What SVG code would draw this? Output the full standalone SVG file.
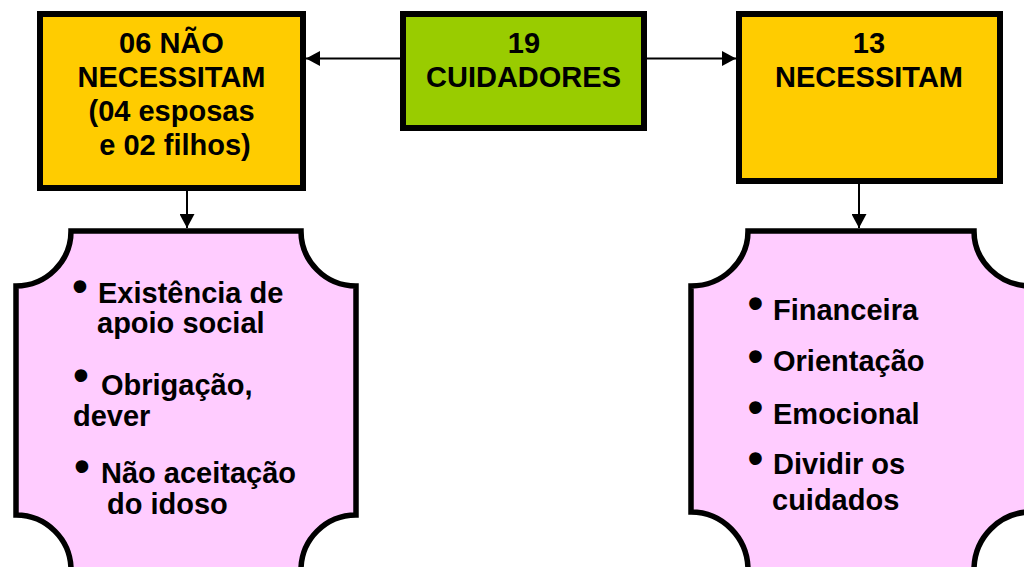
<svg xmlns="http://www.w3.org/2000/svg" width="1024" height="567" viewBox="0 0 1024 567">
<style>
.box{stroke:#000;stroke-width:6}
.yel{fill:#FFCC00}
.grn{fill:#99CC00}
.pink{fill:#FFCCFF;stroke:#000;stroke-width:5.5}
.t{font-family:"Liberation Sans",Arial,sans-serif;font-weight:bold;font-size:29px;fill:#000}
.c{text-anchor:middle}
.b{font-size:44px}
.ln{stroke:#000;stroke-width:2;fill:none}
</style>
<defs>
<marker id="ah" viewBox="0 0 14 15" refX="14" refY="7.5" markerWidth="14" markerHeight="15" markerUnits="userSpaceOnUse" orient="auto">
<path d="M0,0 L14,7.5 L0,15 Z" fill="#000"/>
</marker>
</defs>
<rect width="1024" height="567" fill="#fff"/>
<g id="connectors">
<line class="ln" x1="403" y1="58.5" x2="306" y2="58.5" marker-end="url(#ah)"/>
<line class="ln" x1="639" y1="58.5" x2="736" y2="58.5" marker-end="url(#ah)"/>
<line class="ln" x1="187" y1="181" x2="187" y2="228" marker-end="url(#ah)"/>
<line class="ln" x1="859" y1="184" x2="859" y2="228" marker-end="url(#ah)"/>
</g>
<g id="node-nao">
<rect class="box yel" x="40" y="14" width="263" height="174"/>
<text class="t c" x="171.5" y="53">06 NÃO</text>
<text class="t c" x="171.5" y="87">NECESSITAM</text>
<text class="t c" x="171.5" y="121">(04 esposas</text>
<text class="t c" x="175" y="155">e 02 filhos)</text>
</g>
<g id="node-cuidadores">
<rect class="box grn" x="403" y="14" width="241" height="114"/>
<text class="t c" x="524" y="53">19</text>
<text class="t c" x="523.5" y="87">CUIDADORES</text>
</g>
<g id="node-necessitam">
<rect class="box yel" x="739" y="14" width="261" height="167"/>
<text class="t c" x="869" y="53">13</text>
<text class="t c" x="869" y="87">NECESSITAM</text>
</g>
<g id="node-motivos">
<path class="pink" d="M71,231 H301 A55,55 0 0 0 356,286 V515 A55,55 0 0 0 301,570 H71 A55,55 0 0 0 16,515 V286 A55,55 0 0 0 71,231 Z"/>
<text class="t"><tspan class="b" x="72.3" y="301">•</tspan><tspan x="98" y="303">Existência de</tspan></text>
<text class="t" x="97" y="333">apoio social</text>
<text class="t"><tspan class="b" x="73.3" y="389.5">•</tspan><tspan x="101" y="395">Obrigação,</tspan></text>
<text class="t" x="73" y="426">dever</text>
<text class="t"><tspan class="b" x="74.3" y="481">•</tspan><tspan x="101" y="483">Não aceitação</tspan></text>
<text class="t" x="107" y="514">do idoso</text>
</g>
<g id="node-apoios">
<path class="pink" d="M748,231 H974 A57,55 0 0 0 1031,286 V512 A57,58 0 0 0 974,570 H748 A57,58 0 0 0 691,512 V286 A57,55 0 0 0 748,231 Z"/>
<text class="t"><tspan class="b" x="747.8" y="317.5">•</tspan><tspan x="773" y="320">Financeira</tspan></text>
<text class="t"><tspan class="b" x="747.8" y="371">•</tspan><tspan x="773" y="371">Orientação</tspan></text>
<text class="t"><tspan class="b" x="747.8" y="421.5">•</tspan><tspan x="773" y="424">Emocional</tspan></text>
<text class="t"><tspan class="b" x="747.8" y="472.5">•</tspan><tspan x="773" y="474">Dividir os</tspan></text>
<text class="t" x="772" y="510">cuidados</text>
</g>
</svg>
